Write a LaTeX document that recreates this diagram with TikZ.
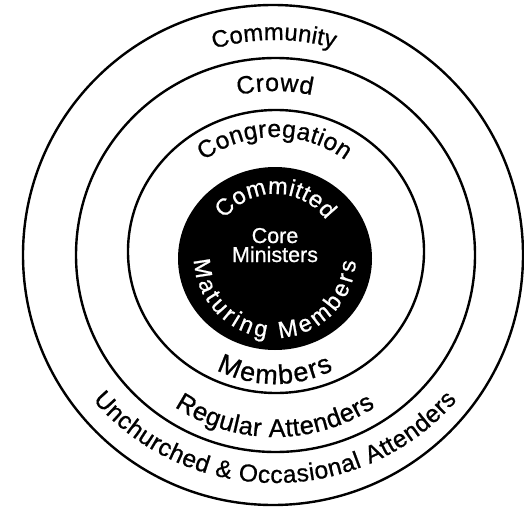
\documentclass[tikz,border=0pt]{standalone}
\usepackage{fontspec}
\setmainfont{Liberation Sans}
\newfontfamily\lblfont{Liberation Sans}[FakeBold=0.8]
\usetikzlibrary{decorations.text}
\newcommand\fs[1]{\lblfont\fontsize{#1}{#1}\selectfont}
\begin{document}
\begin{tikzpicture}[x=1pt,y=1pt,
  ring/.style={draw=black, line width=2.4pt}
]
\useasboundingbox (0,0) rectangle (524,507);
\coordinate (c) at (275,252);
\coordinate (d) at (275,250);
% rings
\draw[ring] (273,252) circle[radius=250];
\draw[ring] (275.5,252) ellipse[x radius=199.5, y radius=197];
\draw[ring] (276,255.5) ellipse[x radius=148, y radius=141.5];
\fill[black] (275,248.5) ellipse[x radius=97, y radius=91.5];
% top labels
\path[decorate, decoration={text along path, text align={fit to path}, text={|\fs{23.8}|Community}}]
  (c) ++(106.5:215) arc[start angle=106.5, end angle=74, radius=215];
\path[decorate, decoration={text along path, text align={fit to path}, text={|\fs{25}|Crowd}}]
  (c) ++(103:164) arc[start angle=103, end angle=77, radius=164];
\path[decorate, decoration={text along path, text align={fit to path}, text={|\fs{24.5}|Congregation}}]
  (c) ++(127:118) arc[start angle=127, end angle=53.5, radius=118];
% bottom labels
\path[decorate, decoration={text along path, text align={fit to path}, text={|\fs{27}|Members}}]
  (c) ++(243:129) arc[start angle=243, end angle=297, radius=129];
\path[decorate, decoration={text along path, text align={fit to path}, text={|\fs{25.5}|Regular Attenders}}]
  (c) ++(236.5:182) arc[start angle=236.5, end angle=303.5, radius=182];
\path[decorate, decoration={text along path, text align={fit to path}, text={|\fs{24.5}|Unchurched {\&} Occasional Attenders}}]
  (c) ++(219.5:236 and 228) arc[start angle=219.5, end angle=320.5, x radius=236, y radius=228];
% disk labels
\path[decorate, decoration={text along path, text align={fit to path}, text={|\color{white}\fs{23.5}|Committed}}]
  (d) ++(143:63) arc[start angle=143, end angle=36, radius=63];
\path[decorate, decoration={text along path, text align={fit to path}, text={|\color{white}\fs{23.5}|Maturing Members}}]
  (d) ++(182:81) arc[start angle=182, end angle=357, radius=81];
\node[text=white, font=\fs{21.5}, anchor=base, inner sep=0pt] (core) at (275,264) {Core};
\node[text=white, font=\fs{21.5}, anchor=base, inner sep=0pt] (ministers) at (275,245) {Ministers};
\end{tikzpicture}
\end{document}
